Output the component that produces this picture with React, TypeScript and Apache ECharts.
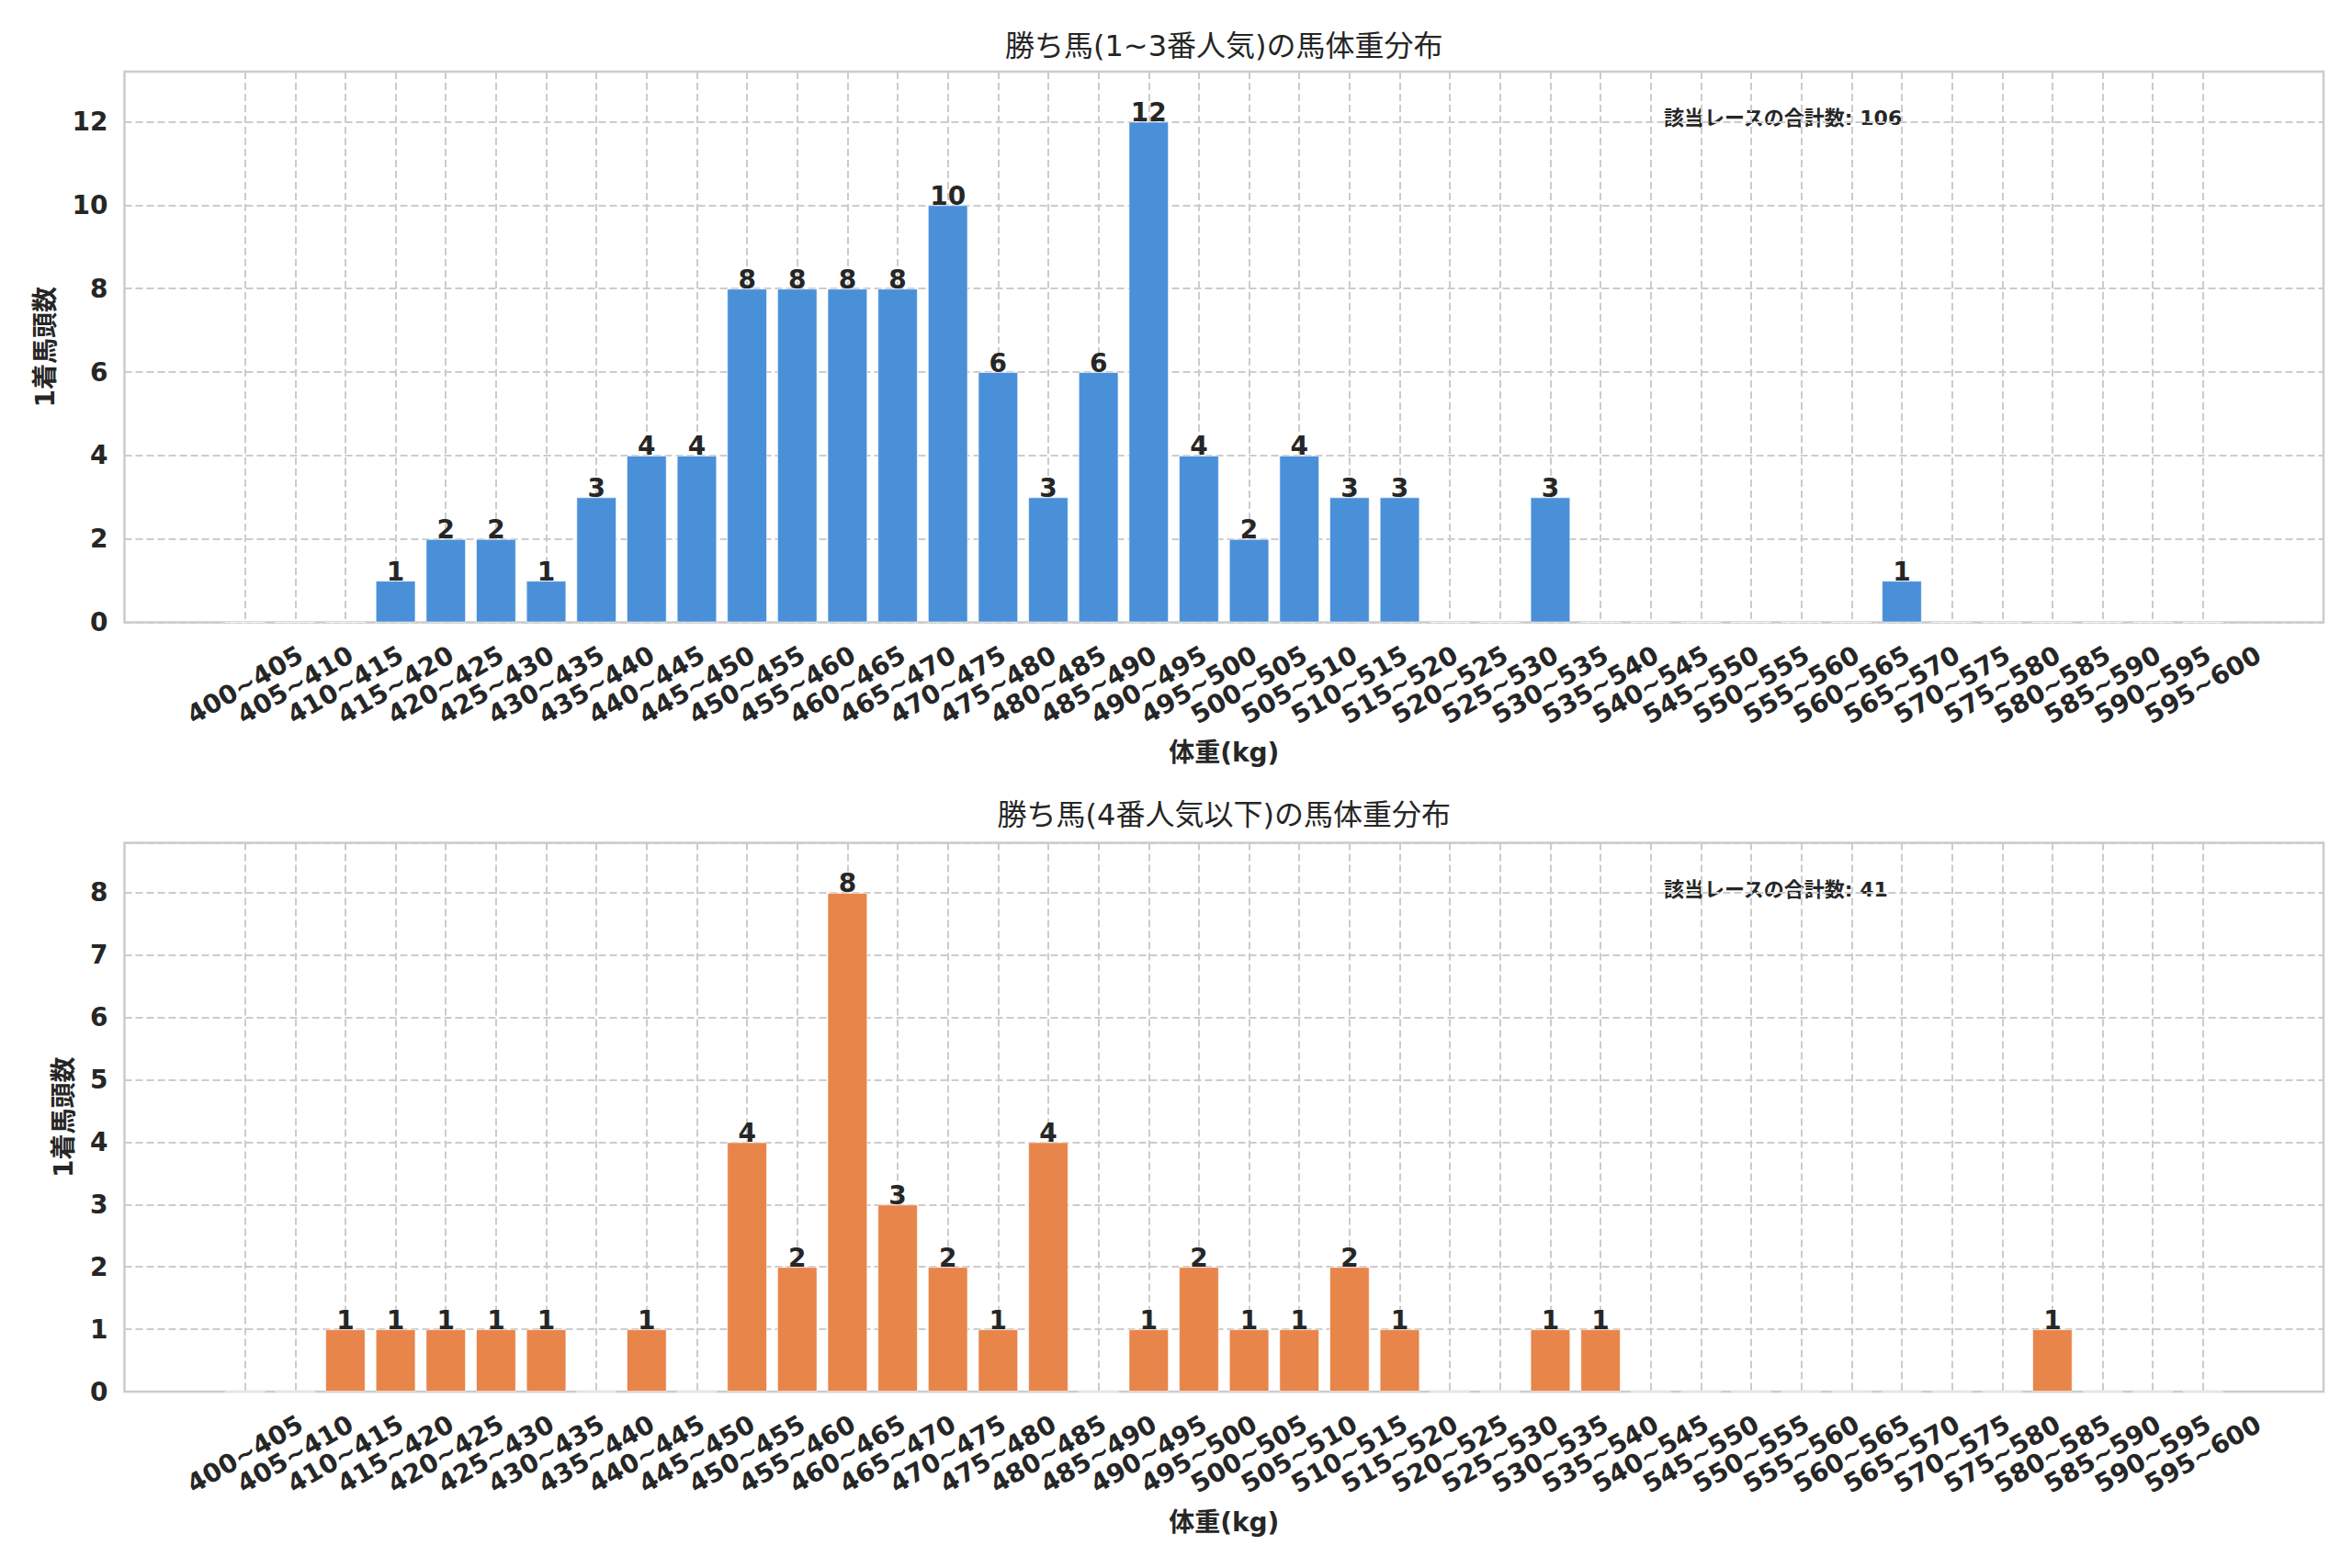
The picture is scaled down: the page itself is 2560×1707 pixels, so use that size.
import React, { useEffect, useRef } from "react";
import * as echarts from "echarts";

const categories = [
  "400~405", "405~410", "410~415", "415~420", "420~425", "425~430", "430~435", "435~440",
  "440~445", "445~450", "450~455", "455~460", "460~465", "465~470", "470~475", "475~480",
  "480~485", "485~490", "490~495", "495~500", "500~505", "505~510", "510~515", "515~520",
  "520~525", "525~530", "530~535", "535~540", "540~545", "545~550", "550~555", "555~560",
  "560~565", "565~570", "570~575", "575~580", "580~585", "585~590", "590~595", "595~600",
];

const topCounts = [
  0, 0, 0, 1, 2, 2, 1, 3, 4, 4, 8, 8, 8, 8, 10, 6, 3, 6, 12, 4,
  2, 4, 3, 3, 0, 0, 3, 0, 0, 0, 0, 0, 0, 1, 0, 0, 0, 0, 0, 0,
];

const bottomCounts = [
  0, 0, 1, 1, 1, 1, 1, 0, 1, 0, 4, 2, 8, 3, 2, 1, 4, 0, 1, 2,
  1, 1, 2, 1, 0, 0, 1, 1, 0, 0, 0, 0, 0, 0, 0, 0, 1, 0, 0, 0,
];

const topYTicks = { max: 13.2, interval: 2 };
const bottomYTicks = { max: 8.8, interval: 1 };

const topTitle = "勝ち馬(1~3番人気)の馬体重分布";
const bottomTitle = "勝ち馬(4番人気以下)の馬体重分布";
const xName = "体重(kg)";
const yName = "1着馬頭数";
const totalLabel = "該当レースの合計数";

const FONT = "'DejaVu Sans', 'Noto Sans CJK JP', sans-serif";
const TEXT = "#262626";
const GRID = "#cccccc";
const BLUE = "#4A90D9";
const ORANGE = "#E8854A";

export default function App() {
  const ref = useRef<HTMLDivElement>(null);

  useEffect(() => {
    document.body.style.margin = "0";
    if (!ref.current) return;
    const chart = echarts.init(ref.current, undefined, { renderer: "svg" });

    const frameLeft = 135.5;
    const frameWidth = 2393.5;
    const unit = frameWidth / 43.8;
    const innerLeft = frameLeft + 2.4 * unit;
    const innerWidth = 39 * unit;
    const centerX = frameLeft + frameWidth / 2;

    const panels = [
      { top: 78, height: 599.6, data: topCounts, color: BLUE, ticks: topYTicks, title: topTitle, titleY: 50, nameGap: 72 },
      { top: 917.6, height: 597.4, data: bottomCounts, color: ORANGE, ticks: bottomYTicks, title: bottomTitle, titleY: 887, nameGap: 52 },
    ];

    const grids: any[] = [];
    const xAxes: any[] = [];
    const yAxes: any[] = [];
    const series: any[] = [];
    const graphics: any[] = [];

    const splitStyle = { color: GRID, width: 2, type: [8, 4] };
    const boldText = { fontSize: 28, fontWeight: "bold", color: TEXT, fontFamily: FONT };

    panels.forEach((p, i) => {
      const outer = i * 2;
      const inner = i * 2 + 1;
      grids.push({
        left: frameLeft, top: p.top, width: frameWidth, height: p.height,
        show: true, borderColor: GRID, borderWidth: 2.5, backgroundColor: "transparent",
        containLabel: false, outerBoundsMode: "none",
      });
      grids.push({
        left: innerLeft, top: p.top, width: innerWidth, height: p.height,
        containLabel: false, outerBoundsMode: "none",
      });
      xAxes.push({ gridIndex: outer, type: "value", min: 0, max: 1, show: false });
      xAxes.push({
        gridIndex: inner,
        type: "category",
        data: categories,
        boundaryGap: false,
        axisLine: { show: false },
        axisTick: { show: false },
        axisLabel: {
          interval: 0, rotate: 30, align: "center", verticalAlign: "middle", margin: 68,
          ...boldText,
        },
        splitLine: { show: true, interval: 0, lineStyle: splitStyle },
        name: xName,
        nameLocation: "middle",
        nameGap: 128,
        nameTextStyle: { ...boldText },
      });
      yAxes.push({
        gridIndex: outer,
        type: "value",
        min: 0,
        max: p.ticks.max,
        interval: p.ticks.interval,
        axisLine: { show: false },
        axisTick: { show: false },
        axisLabel: { showMaxLabel: false, margin: 18, ...boldText },
        splitLine: { show: true, lineStyle: splitStyle },
        name: yName,
        nameLocation: "middle",
        nameRotate: 90,
        nameGap: p.nameGap,
        nameTextStyle: { ...boldText },
      });
      yAxes.push({ gridIndex: inner, type: "value", min: 0, max: p.ticks.max, show: false });
      series.push({
        type: "bar",
        xAxisIndex: inner,
        yAxisIndex: inner,
        data: p.data,
        barWidth: "80%",
        clip: false,
        itemStyle: { color: p.color, borderColor: "rgba(255,255,255,0.6)", borderWidth: 1 },
        label: {
          show: true,
          position: "top",
          distance: -4,
          formatter: (q: any) => (q.value > 0 ? String(q.value) : ""),
          ...boldText,
        },
      });
      const total = p.data.reduce((a, b) => a + b, 0);
      graphics.push({
        type: "text",
        x: centerX,
        y: p.titleY,
        style: {
          text: p.title, fill: TEXT, fontSize: 32, fontWeight: "normal", fontFamily: FONT,
          align: "center", verticalAlign: "middle",
        },
      });
      graphics.push({
        type: "text",
        x: frameLeft + 0.7 * frameWidth,
        y: p.top + 0.085 * p.height,
        style: {
          text: `${totalLabel}: ${total}`, fill: TEXT, fontSize: 22, fontWeight: "bold", fontFamily: FONT,
          align: "left", verticalAlign: "middle",
        },
      });
    });

    chart.setOption({
      animation: false,
      backgroundColor: "#ffffff",
      textStyle: { fontFamily: FONT },
      grid: grids,
      xAxis: xAxes,
      yAxis: yAxes,
      series,
      graphic: graphics,
    });

    return () => chart.dispose();
  }, []);

  return <div ref={ref} style={{ width: 2560, height: 1707 }} />;
}
